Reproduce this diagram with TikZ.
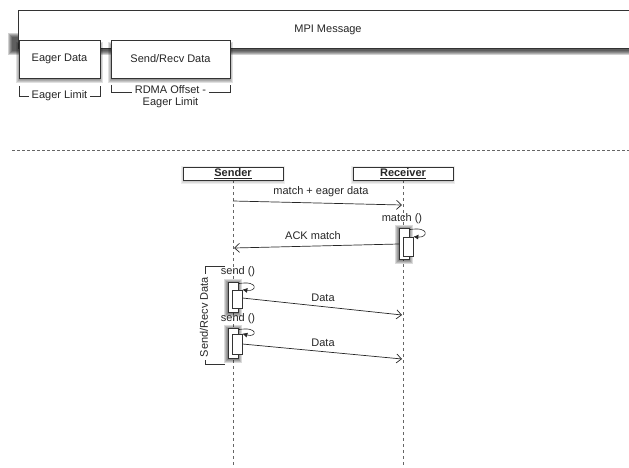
\documentclass[tikz,border=0pt]{standalone}
\usepackage{fontspec}
\setmainfont{Liberation Sans}
\usetikzlibrary{arrows.meta}
\newcommand\softshadow[5]{%
  \foreach \i in {0,...,4}{\fill[black,opacity=#5] ({#1-\i},{#2-\i}) rectangle ({#3+\i},{#4+\i});}}
\begin{document}
\begin{tikzpicture}[x=1pt,y=-1pt,
  font=\fontsize{11}{12.5}\selectfont,
  every node/.style={text=black!85},
  box/.style={draw=black!80, line width=0.8pt, fill=white, inner sep=0pt},
  hdr/.style={draw=black!80, line width=0.8pt, fill=white, inner sep=0pt,
    minimum width=100pt, minimum height=13pt},
  act/.style={draw=black!80, line width=0.7pt, fill=white, inner sep=0pt, minimum width=10pt},
  life/.style={draw=black!60, line width=0.8pt, dash pattern=on 3pt off 3pt},
  msg/.style={draw=black!85, line width=0.7pt, -{Straight Barb[length=5pt,width=9pt,line width=0.7pt]}},
  loop/.style={draw=black!85, line width=0.6pt, -{Latex[length=5pt,width=5pt]}},
  brk/.style={draw=black!80, line width=0.7pt},
  lbl/.style={fill=white, inner xsep=3pt, inner ysep=1pt, align=center}
]
\useasboundingbox (0,0) rectangle (629,468);
\clip (0,0) rectangle (629,468);

% top: MPI message layout
\softshadow{12}{37}{640}{51}{0.18}
\node[box, minimum width=622pt, minimum height=38pt] (mpi) at (329,29) {};
\node (mpit) at (328,30) {MPI Message};
\softshadow{20}{46}{99}{79}{0.12}
\softshadow{112}{46}{229}{79}{0.12}
\node[box, minimum width=81pt, minimum height=38pt] (eager) at (59.5,59) {Eager Data};
\node[box, minimum width=119pt, minimum height=38pt] (sr) at (170.5,59) {Send/Recv Data};

% brackets
\draw[brk] (19,86) |- (100,96) -- (100,86);
\node[lbl] (el) at (59.5,96) {Eager Limit};
\draw[brk] (111,85) |- (230,92) -- (230,85);
\node[lbl, font=\fontsize{11}{12.5}\selectfont] (rdma) at (170.5,96.5) {RDMA Offset -\\Eager Limit};

% separator
\coordinate (sepL) at (12,150);
\coordinate (sepR) at (629,150);
\draw[draw=black!60, line width=0.8pt, dash pattern=on 3pt off 2pt] (sepL) -- (sepR);

% lifelines
\coordinate (sEnd) at (233,470);
\coordinate (rEnd) at (403,470);
\draw[life] (233,180) -- (sEnd);
\draw[life] (403,180) -- (rEnd);
\softshadow{185}{170}{281}{180}{0.07}
\softshadow{355}{170}{451}{180}{0.07}
\node[hdr] (sender) at (233,173.5) {\underline{\textbf{Sender}}};
\node[hdr] (receiver) at (403,173.5) {\underline{\textbf{Receiver}}};

% message 1
\coordinate (m1a) at (233,201);
\coordinate (m1b) at (402,205);
\draw[msg] (m1a) -- (m1b);
\node (m1l) at (321,192) {match + eager data};

% receiver activation
\node (matchl) at (402,219) {match ()};
\softshadow{399}{229}{409}{260}{0.14}
\node[act, minimum height=31pt] (ra) at (404,243.5) {};
\node[act, minimum height=19pt] (rb) at (408,246.5) {};
\draw[loop] (ra.north east) ++(0,2) .. controls (430,226) and (428,238) .. (rb.north east);

% ACK
\coordinate (ackA) at (399,244);
\coordinate (ackB) at (234,248);
\draw[msg] (ackA) -- (ackB);
\node (ackl) at (313,236) {ACK match};

% bracket Send/Recv data
\draw[brk] (225,266) -| (205,364) -- (225,364);
\node[lbl, rotate=90] (srl) at (204,317) {Send/Recv Data};

% send 1
\node (s1l) at (238,272) {send ()};
\softshadow{228}{283}{238}{313}{0.14}
\node[act, minimum height=30pt] (sa1) at (233,297) {};
\node[act, minimum height=18pt] (sb1) at (237,299) {};
\draw[loop] (sa1.north east) ++(0,2) .. controls (259,280) and (257,292) .. (sb1.north east);
\coordinate (d1b) at (402,315);
\draw[msg] (sb1.east) ++(0,-1) -- (d1b);
\node (d1l) at (323,298) {Data};

% send 2
\node (s2l) at (238,319) {send ()};
\softshadow{228}{329}{238}{359}{0.14}
\node[act, minimum height=30pt] (sa2) at (233,343) {};
\node[act, minimum height=20pt] (sb2) at (237,344) {};
\draw[loop] (sa2.north east) ++(0,2) .. controls (259,326) and (257,338) .. (sb2.north east);
\coordinate (d2b) at (402,359);
\draw[msg] (sb2.east) -- (d2b);
\node (d2l) at (323,343) {Data};
\end{tikzpicture}
\end{document}
